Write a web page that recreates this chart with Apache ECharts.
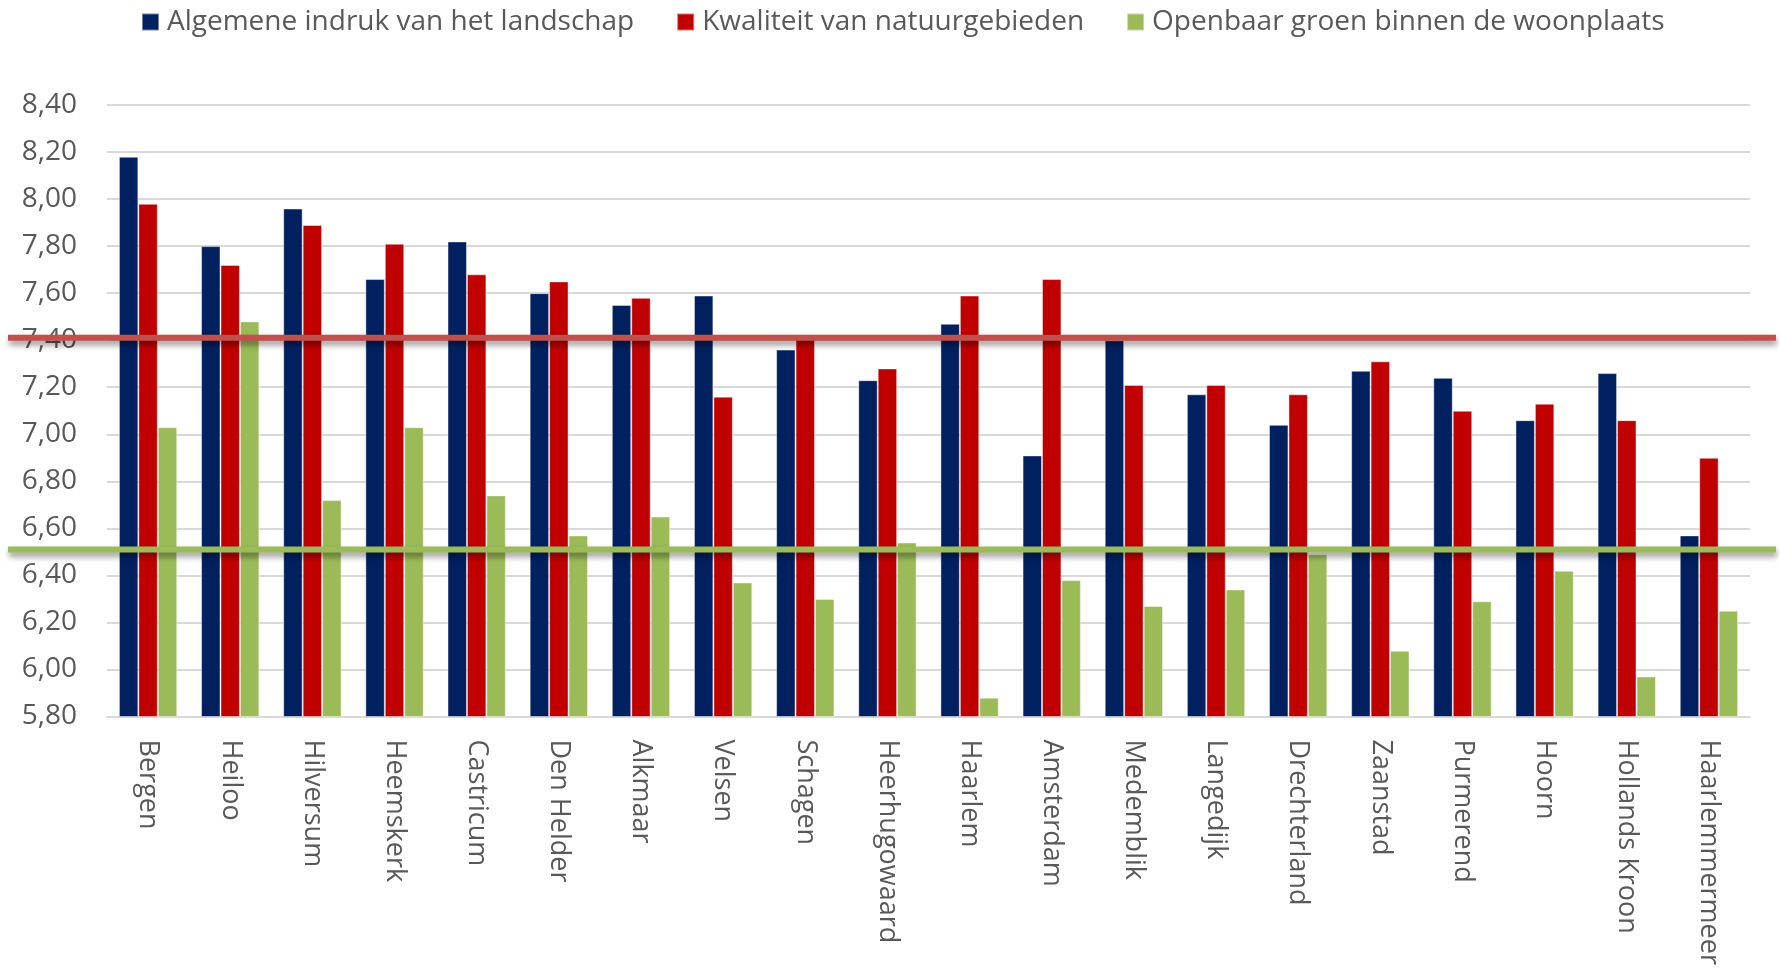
<!DOCTYPE html>
<html>
<head>
<meta charset="utf-8">
<script src="https://cdn.jsdelivr.net/npm/echarts@6/dist/echarts.min.js"></script>
<style>
html,body{margin:0;padding:0;background:#fff;}
#chart{width:1780px;height:968px;}
</style>
</head>
<body>
<div id="chart"></div>
<script>
const categories = ["Bergen","Heiloo","Hilversum","Heemskerk","Castricum","Den Helder","Alkmaar","Velsen","Schagen","Heerhugowaard","Haarlem","Amsterdam","Medemblik","Langedijk","Drechterland","Zaanstad","Purmerend","Hoorn","Hollands Kroon","Haarlemmermeer"];
const seriesNames = ["Algemene indruk van het landschap","Kwaliteit van natuurgebieden","Openbaar groen binnen de woonplaats"];
const landschap = [8.18,7.80,7.96,7.66,7.82,7.60,7.55,7.59,7.36,7.23,7.47,6.91,7.40,7.17,7.04,7.27,7.24,7.06,7.26,6.57];
const natuur = [7.98,7.72,7.89,7.81,7.68,7.65,7.58,7.16,7.41,7.28,7.59,7.66,7.21,7.21,7.17,7.31,7.10,7.13,7.06,6.90];
const groen = [7.03,7.48,6.72,7.03,6.74,6.57,6.65,6.37,6.30,6.54,5.88,6.38,6.27,6.34,6.49,6.08,6.29,6.42,5.97,6.25];
const gemNatuur = 7.41;
const gemGroen = 6.51;
const yMin = 5.8, yMax = 8.4, yStep = 0.2;

const colors = ['#002060','#C00000','#9BBB59'];
const font = 'Open Sans';
const chart = echarts.init(document.getElementById('chart'));
const gridPos = {top:105, bottom:251.5};
function barSeries(name, data, color){
  return {name:name, type:'bar', data:data, xAxisIndex:0, yAxisIndex:0,
    barGap:'0%', barCategoryGap:'29%',
    itemStyle:{color:color, borderColor:'rgba(255,255,255,0.45)', borderWidth:1},
    emphasis:{disabled:true}, animation:false};
}
function refLine(value, color){
  return {type:'line', xAxisIndex:1, yAxisIndex:1, data:[[0,value],[1,value]],
    symbol:'none', z:10, silent:true, animation:false,
    lineStyle:{color:color, width:6, shadowColor:'rgba(0,0,0,0.45)', shadowBlur:6, shadowOffsetY:4, shadowOffsetX:1}};
}
chart.setOption({
  backgroundColor:'#fff',
  animation:false,
  textStyle:{fontFamily:font},
  legend:{top:3, left:136, itemWidth:17, itemHeight:17, itemGap:42,
    icon:'rect', data:seriesNames,
    textStyle:{fontFamily:font, fontSize:28, color:'#595959', padding:[0,0,0,3]}},
  grid:[
    {left:107, right:30, top:gridPos.top, bottom:gridPos.bottom},
    {left:8, right:4, top:gridPos.top, bottom:gridPos.bottom}
  ],
  xAxis:[
    {type:'category', data:categories, gridIndex:0,
     axisLine:{lineStyle:{color:'#D9D9D9', width:2}}, axisTick:{show:false},
     axisLabel:{rotate:-90, margin:23, fontFamily:font, fontSize:27, color:'#595959', interval:0}},
    {type:'value', gridIndex:1, min:0, max:1, show:false}
  ],
  yAxis:[
    {type:'value', gridIndex:0, min:yMin, max:yMax, interval:yStep,
     axisLine:{show:false}, axisTick:{show:false},
     splitLine:{lineStyle:{color:'#D9D9D9', width:2}},
     axisLabel:{margin:30, fontFamily:font, fontSize:28, color:'#595959',
       formatter:v=>v.toFixed(2).replace('.',',')}},
    {type:'value', gridIndex:1, min:yMin, max:yMax, show:false}
  ],
  series:[
    barSeries(seriesNames[0], landschap, colors[0]),
    barSeries(seriesNames[1], natuur, colors[1]),
    barSeries(seriesNames[2], groen, colors[2]),
    refLine(gemNatuur, '#C0504D'),
    refLine(gemGroen, '#9BBB59')
  ]
});
</script>
</body>
</html>
